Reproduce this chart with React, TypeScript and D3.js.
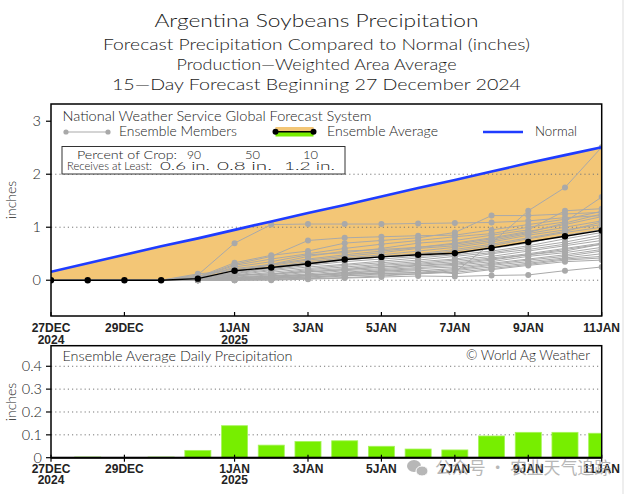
import React from "react";
import * as d3 from "d3";

// ---- data ----
const dayLabels = ["27DEC","28DEC","29DEC","30DEC","31DEC","1JAN","2JAN","3JAN","4JAN","5JAN","6JAN","7JAN","8JAN","9JAN","10JAN","11JAN"];
const tickDays = [0, 2, 5, 7, 9, 11, 13, 15];
const tickLabels = ["27DEC", "29DEC", "1JAN", "3JAN", "5JAN", "7JAN", "9JAN", "11JAN"];
const tickYears = ["2024", "", "2025", "", "", "", "", ""];
const topYTicks = [0, 1, 2, 3];
const topGrid = [0, 1, 2];
const botYTicks = [0, 0.1, 0.2, 0.3, 0.4];
const botYLabels = ["0", "0.1", "0.2", "0.3", "0.4"];

const normalPrecip = [0.16, 0.32, 0.48, 0.64, 0.79, 0.95, 1.11, 1.27, 1.42, 1.58, 1.74, 1.89, 2.05, 2.21, 2.36, 2.51];
const ensembleAverage = [0, 0, 0, 0, 0.03, 0.18, 0.24, 0.31, 0.39, 0.44, 0.48, 0.51, 0.61, 0.72, 0.83, 0.94];
const dailyAverage = [0, 0.003, 0, 0.003, 0.032, 0.14, 0.055, 0.071, 0.074, 0.05, 0.038, 0.034, 0.095, 0.111, 0.111, 0.107];

const members: number[][] = [
  [0, 0, 0, 0, 0.10, 0.70, 1.05, 1.06, 1.06, 1.06, 1.07, 1.08, 1.09, 1.12, 1.18, 1.22],
  [0, 0, 0, 0, 0.02, 0.05, 0.08, 0.10, 0.12, 0.13, 0.14, 0.15, 0.70, 1.31, 1.75, 2.51],
  [0, 0, 0, 0, 0.05, 0.30, 0.45, 0.75, 0.80, 0.82, 0.84, 0.85, 0.95, 1.05, 1.15, 1.30],
  [0, 0, 0, 0, 0.06, 0.33, 0.47, 0.55, 0.70, 0.75, 0.80, 0.90, 1.22, 1.22, 1.25, 1.28],
  [0, 0, 0, 0, 0.04, 0.28, 0.40, 0.50, 0.60, 0.68, 0.75, 0.82, 0.88, 1.00, 1.10, 1.57],
  [0, 0, 0, 0, 0.03, 0.25, 0.35, 0.48, 0.52, 0.60, 0.70, 0.75, 0.85, 0.95, 1.31, 1.35],
  [0, 0, 0, 0, 0.08, 0.22, 0.30, 0.45, 0.55, 0.58, 0.62, 0.70, 0.80, 0.92, 1.05, 1.20],
  [0, 0, 0, 0, 0.02, 0.20, 0.28, 0.38, 0.45, 0.52, 0.60, 0.65, 0.75, 0.88, 1.00, 1.12],
  [0, 0, 0, 0, 0.12, 0.18, 0.25, 0.35, 0.42, 0.48, 0.55, 0.62, 0.72, 0.85, 0.95, 1.05],
  [0, 0, 0, 0, 0.01, 0.15, 0.22, 0.30, 0.38, 0.44, 0.48, 0.55, 0.65, 0.78, 0.90, 1.00],
  [0, 0, 0, 0, 0.03, 0.12, 0.20, 0.28, 0.35, 0.40, 0.45, 0.50, 0.60, 0.70, 0.85, 0.95],
  [0, 0, 0, 0, 0.00, 0.10, 0.18, 0.25, 0.30, 0.36, 0.42, 0.48, 0.55, 0.65, 0.78, 0.90],
  [0, 0, 0, 0, 0.02, 0.08, 0.15, 0.22, 0.28, 0.33, 0.38, 0.45, 0.52, 0.62, 0.72, 0.85],
  [0, 0, 0, 0, 0.04, 0.10, 0.12, 0.20, 0.25, 0.30, 0.35, 0.40, 0.50, 0.58, 0.68, 0.80],
  [0, 0, 0, 0, 0.01, 0.06, 0.10, 0.18, 0.22, 0.28, 0.32, 0.38, 0.45, 0.55, 0.65, 0.75],
  [0, 0, 0, 0, 0.00, 0.05, 0.08, 0.15, 0.20, 0.25, 0.30, 0.35, 0.42, 0.50, 0.60, 0.70],
  [0, 0, 0, 0, 0.02, 0.04, 0.07, 0.12, 0.18, 0.22, 0.27, 0.30, 0.38, 0.48, 0.55, 0.68],
  [0, 0, 0, 0, 0.00, 0.03, 0.05, 0.10, 0.15, 0.20, 0.24, 0.28, 0.35, 0.45, 0.52, 0.62],
  [0, 0, 0, 0, 0.01, 0.02, 0.04, 0.08, 0.12, 0.18, 0.22, 0.25, 0.32, 0.40, 0.48, 0.58],
  [0, 0, 0, 0, 0.00, 0.01, 0.03, 0.06, 0.10, 0.15, 0.18, 0.22, 0.30, 0.38, 0.45, 0.55],
  [0, 0, 0, 0, 0.00, 0.00, 0.02, 0.04, 0.08, 0.12, 0.15, 0.20, 0.28, 0.35, 0.42, 0.50],
  [0, 0, 0, 0, 0.00, 0.00, 0.01, 0.03, 0.05, 0.08, 0.12, 0.18, 0.25, 0.32, 0.40, 0.45],
  [0, 0, 0, 0, 0.00, 0.00, 0.00, 0.02, 0.04, 0.06, 0.08, 0.07, 0.09, 0.10, 0.18, 0.25],
  [0, 0, 0, 0, 0.01, 0.03, 0.06, 0.09, 0.14, 0.17, 0.20, 0.12, 0.20, 0.28, 0.35, 0.38],
  [0, 0, 0, 0, 0.02, 0.15, 0.30, 0.40, 0.48, 0.55, 0.62, 0.68, 0.78, 0.90, 1.08, 1.25],
  [0, 0, 0, 0, 0.00, 0.08, 0.12, 0.16, 0.20, 0.25, 0.28, 0.32, 0.40, 0.48, 0.58, 0.68],
  [0, 0, 0, 0, 0.03, 0.12, 0.25, 0.32, 0.40, 0.45, 0.50, 0.58, 0.68, 0.80, 0.92, 1.10],
  [0, 0, 0, 0, 0.00, 0.02, 0.04, 0.06, 0.09, 0.10, 0.12, 0.15, 0.22, 0.30, 0.38, 0.42],
];

const titleLines = [
  "Argentina Soybeans Precipitation",
  "Forecast Precipitation Compared to Normal (inches)",
  "Production\u2014Weighted Area Average",
  "15\u2014Day Forecast Beginning 27 December 2024",
];

// ---- styles ----
const FONT = "Lato, 'Liberation Sans', 'DejaVu Sans', sans-serif";
const NARROW = "'Liberation Sans Narrow', 'Liberation Sans', sans-serif";
const ORANGE = "#f3c676";
const BLUE = "#1f3cff";
const GREEN = "#77ee00";
const GRAY = "#a9a9a9";
const INK = "#1a1a1a";

export default function App() {
  const L = 51, R = 601.7;
  const topT = 104, topB = 316;
  const botT = 345.7, botB = 457.7;

  const x = d3.scaleLinear().domain([0, 15]).range([L, R]);
  const yTop = d3.scaleLinear().domain([-0.675, 3.325]).range([topB, topT]);
  const yBot = d3.scaleLinear().domain([0, 0.49]).range([botB, botT]);

  const idx = d3.range(dayLabels.length);
  const area = d3
    .area<number>()
    .x((i) => x(i))
    .y0((i) => yTop(ensembleAverage[i]))
    .y1((i) => yTop(normalPrecip[i]));

  const mkLine = (vals: number[]) =>
    d3.line<number>().x((_, i) => x(i)).y((v) => yTop(v))(vals) || "";

  const barW = (x(1) - x(0)) * 0.71;

  const titleSpecs = [
    { y: 27, size: 18, w: 324 },
    { y: 50, size: 16, w: 427 },
    { y: 70, size: 16, w: 280 },
    { y: 90, size: 16, w: 409 },
  ];

  const T = (props: any) => (
    <text fontWeight={300} fill={INK} lengthAdjust="spacingAndGlyphs" {...props} />
  );

  return (
    <svg
      width={633}
      height={494}
      style={{ position: "absolute", left: 0, top: 0, background: "#fff" }}
      fontFamily={FONT}
    >
      <defs>
        <clipPath id="clipTop">
          <rect x={L} y={topT} width={R - L} height={topB - topT} />
        </clipPath>
        <clipPath id="clipBot">
          <rect x={L} y={botT} width={R - L} height={botB - botT} />
        </clipPath>
      </defs>
      <rect x={0} y={0} width={633} height={494} fill="#fff" />

      {/* titles */}
      {titleLines.map((t, i) => (
        <T
          key={t}
          x={316.5}
          y={titleSpecs[i].y}
          textAnchor="middle"
          fontSize={titleSpecs[i].size}
          textLength={titleSpecs[i].w}
        >
          {t}
        </T>
      ))}

      {/* ---- top plot ---- */}
      <g clipPath="url(#clipTop)">
        <path d={area(idx) || ""} fill={ORANGE} />
        {topGrid.map((v) => (
          <line
            key={v}
            x1={L}
            x2={R}
            y1={yTop(v)}
            y2={yTop(v)}
            stroke="#777"
            strokeWidth={1}
            strokeDasharray="1.2,3"
          />
        ))}
        {members.map((m, k) => (
          <path key={"ml" + k} d={mkLine(m)} fill="none" stroke={GRAY} strokeWidth={1} />
        ))}
        {members.map((m, k) =>
          m.map((v, i) =>
            i >= 4 ? (
              <circle key={"md" + k + "-" + i} cx={x(i)} cy={yTop(v)} r={3} fill={GRAY} />
            ) : null
          )
        )}
        <path d={mkLine(ensembleAverage)} fill="none" stroke="#000" strokeWidth={1.4} />
        {ensembleAverage.map((v, i) => (
          <circle key={"a" + i} cx={x(i)} cy={yTop(v)} r={3.2} fill="#000" />
        ))}
        <path d={mkLine(normalPrecip)} fill="none" stroke={BLUE} strokeWidth={2.6} />
      </g>
      <rect x={L} y={topT} width={R - L} height={topB - topT} fill="none" stroke="#000" strokeWidth={1.5} />

      {/* top y axis */}
      {topYTicks.map((v) => (
        <g key={"ty" + v}>
          <line x1={L - 5} x2={L} y1={yTop(v)} y2={yTop(v)} stroke="#000" strokeWidth={1.2} />
          <T x={41} y={yTop(v) + 5} textAnchor="end" fontSize={14.5}>
            {v}
          </T>
        </g>
      ))}
      <T
        transform={`translate(16,${(topT + topB) / 2 - 10}) rotate(-90)`}
        textAnchor="middle"
        fontSize={14}
      >
        inches
      </T>

      {/* top x axis */}
      {tickDays.map((d, i) => (
        <g key={"tx" + d}>
          <line x1={x(d)} x2={x(d)} y1={topB} y2={topB - 4} stroke="#000" strokeWidth={1.2} />
          <text x={x(d)} y={332} textAnchor="middle" fontSize={12} fontWeight="bold" fontFamily={NARROW} fill="#222">
            {tickLabels[i]}
          </text>
          {tickYears[i] && (
            <text x={x(d)} y={343.5} textAnchor="middle" fontSize={12} fontWeight="bold" fontFamily={NARROW} fill="#222">
              {tickYears[i]}
            </text>
          )}
        </g>
      ))}

      {/* top legend */}
      <T x={62.5} y={120.5} fontSize={13} textLength={309}>
        National Weather Service Global Forecast System
      </T>
      <line x1={66} x2={108} y1={132} y2={132} stroke={GRAY} strokeWidth={1} />
      <circle cx={66} cy={132} r={2.6} fill={GRAY} />
      <circle cx={108} cy={132} r={2.6} fill={GRAY} />
      <T x={119} y={136} fontSize={13} textLength={118}>
        Ensemble Members
      </T>
      <rect x={275.5} y={127} width={38} height={4.5} fill={ORANGE} />
      <rect x={275.5} y={132} width={38} height={4.5} fill={GREEN} />
      <line x1={275.5} x2={313.5} y1={131.8} y2={131.8} stroke="#000" strokeWidth={1.5} />
      <circle cx={275.5} cy={131.8} r={3} fill="#000" />
      <circle cx={313.5} cy={131.8} r={3} fill="#000" />
      <T x={327} y={136} fontSize={13} textLength={111}>
        Ensemble Average
      </T>
      <line x1={483} x2={523} y1={132} y2={132} stroke={BLUE} strokeWidth={2.6} />
      <T x={535} y={136} fontSize={13} textLength={42}>
        Normal
      </T>

      {/* crop box */}
      <rect x={62} y={146.5} width={283} height={27.5} fill="#fff" stroke="#333" strokeWidth={1} />
      <T x={77} y={158.5} fontSize={12} textLength={100}>
        Percent of Crop:
      </T>
      <T x={187} y={158.5} fontSize={12} textLength={14}>90</T>
      <T x={245} y={158.5} fontSize={12} textLength={15}>50</T>
      <T x={303} y={158.5} fontSize={12} textLength={15}>10</T>
      <T x={67} y={169.5} fontSize={12} textLength={85}>
        Receives at Least:
      </T>
      <T x={160} y={169.5} fontSize={12.5} textLength={50}>0.6 in.</T>
      <T x={217} y={169.5} fontSize={12.5} textLength={55}>0.8 in.</T>
      <T x={284} y={169.5} fontSize={12.5} textLength={51}>1.2 in.</T>

      {/* ---- bottom plot ---- */}
      <g clipPath="url(#clipBot)">
        {botYTicks.slice(1).map((v) => (
          <line
            key={"bg" + v}
            x1={L}
            x2={R}
            y1={yBot(v)}
            y2={yBot(v)}
            stroke="#777"
            strokeWidth={1}
            strokeDasharray="1.2,3"
          />
        ))}
        {dailyAverage.map((v, i) =>
          v > 0 ? (
            <rect
              key={"b" + i}
              x={x(i) - barW / 2}
              y={yBot(v)}
              width={barW}
              height={yBot(0) - yBot(v)}
              fill={GREEN}
              stroke="#a6f45a"
              strokeWidth={0.8}
            />
          ) : null
        )}
      </g>
      <rect x={L} y={botT} width={R - L} height={botB - botT} fill="none" stroke="#000" strokeWidth={1.5} />
      <line x1={L} x2={R} y1={botB} y2={botB} stroke="#000" strokeWidth={2} />
      {botYTicks.map((v, i) => (
        <g key={"by" + v}>
          <line x1={L - 5} x2={L} y1={yBot(v)} y2={yBot(v)} stroke="#000" strokeWidth={1.2} />
          <T x={42} y={yBot(v) + 5} textAnchor="end" fontSize={14.5}>
            {botYLabels[i]}
          </T>
        </g>
      ))}
      <T transform={`translate(16,402) rotate(-90)`} textAnchor="middle" fontSize={14}>
        inches
      </T>
      {tickDays.map((d, i) => (
        <g key={"bx" + d}>
          <line x1={x(d)} x2={x(d)} y1={botB - 3} y2={botB + 4} stroke="#000" strokeWidth={1.2} />
          <text x={x(d)} y={473} textAnchor="middle" fontSize={12} fontWeight="bold" fontFamily={NARROW} fill="#222">
            {tickLabels[i]}
          </text>
          {tickYears[i] && (
            <text x={x(d)} y={484} textAnchor="middle" fontSize={12} fontWeight="bold" fontFamily={NARROW} fill="#222">
              {tickYears[i]}
            </text>
          )}
        </g>
      ))}
      <T x={62.5} y={361} fontSize={13} textLength={230}>
        Ensemble Average Daily Precipitation
      </T>
      <T x={590} y={359.5} textAnchor="end" fontSize={13} textLength={124}>
        © World Ag Weather
      </T>

      {/* watermark */}
      <g opacity={0.7}>
        <ellipse cx={414} cy={466} rx={7} ry={6} fill="#999" />
        <ellipse cx={422} cy={471} rx={6} ry={5} fill="#999" stroke="#fff" strokeWidth={1} />
        <text
          x={435}
          y={474}
          fontSize={17}
          fontFamily="'Noto Sans CJK SC', sans-serif"
          fill="#999"
          textLength={176}
          lengthAdjust="spacingAndGlyphs"
        >
          公众号 · 农业天气追踪
        </text>
      </g>

      <line x1={623} x2={623} y1={0} y2={494} stroke="#ddd" strokeWidth={1} />
    </svg>
  );
}
